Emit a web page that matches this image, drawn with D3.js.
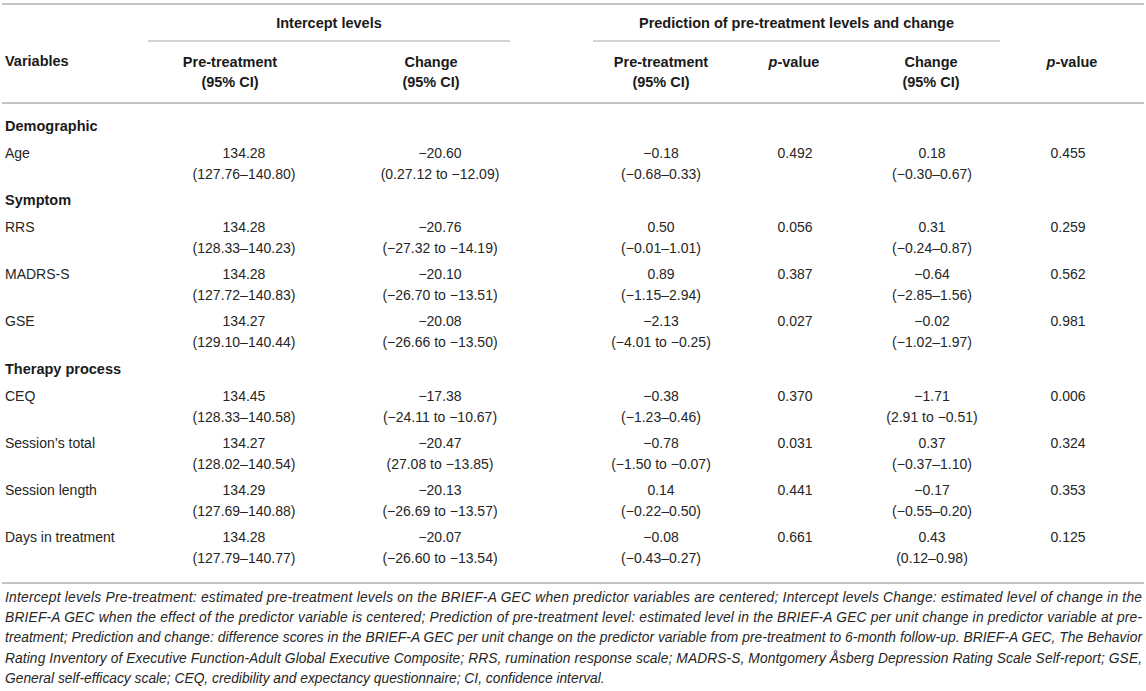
<!DOCTYPE html>
<html>
<head>
<meta charset="utf-8">
<script src="https://cdn.jsdelivr.net/npm/d3@7"></script>
<style>
  body { margin: 0; background: #fff; }
  svg text { font-family: "Liberation Sans", Arial, sans-serif; fill: #262626; }
  .bold { font-weight: bold; fill: #1a1a1a; }
  .note { font-style: italic; }
</style>
</head>
<body>
<svg id="tabla" width="1146" height="691"></svg>
<script>
// Datos de la tabla
var secciones = ["Demographic", "Symptom", "Therapy process"];
var variables = ["Age", "RRS", "MADRS-S", "GSE", "CEQ", "Session\u2019s total", "Session length", "Days in treatment"];
var seccionDeVariable = [0, 1, 1, 1, 2, 2, 2, 2];

var interceptoPre = [134.28, 134.28, 134.28, 134.27, 134.45, 134.27, 134.29, 134.28];
var interceptoPreIC = ["(127.76–140.80)", "(128.33–140.23)", "(127.72–140.83)", "(129.10–140.44)",
                       "(128.33–140.58)", "(128.02–140.54)", "(127.69–140.88)", "(127.79–140.77)"];
var interceptoCambio = [-20.60, -20.76, -20.10, -20.08, -17.38, -20.47, -20.13, -20.07];
var interceptoCambioIC = ["(0.27.12 to −12.09)", "(−27.32 to −14.19)", "(−26.70 to −13.51)", "(−26.66 to −13.50)",
                          "(−24.11 to −10.67)", "(27.08 to −13.85)", "(−26.69 to −13.57)", "(−26.60 to −13.54)"];
var prediccionPre = [-0.18, 0.50, 0.89, -2.13, -0.38, -0.78, 0.14, -0.08];
var prediccionPreIC = ["(−0.68–0.33)", "(−0.01–1.01)", "(−1.15–2.94)", "(−4.01 to −0.25)",
                       "(−1.23–0.46)", "(−1.50 to −0.07)", "(−0.22–0.50)", "(−0.43–0.27)"];
var prediccionPreP = [0.492, 0.056, 0.387, 0.027, 0.370, 0.031, 0.441, 0.661];
var prediccionCambio = [0.18, 0.31, -0.64, -0.02, -1.71, 0.37, -0.17, 0.43];
var prediccionCambioIC = ["(−0.30–0.67)", "(−0.24–0.87)", "(−2.85–1.56)", "(−1.02–1.97)",
                          "(2.91 to −0.51)", "(−0.37–1.10)", "(−0.55–0.20)", "(0.12–0.98)"];
var prediccionCambioP = [0.455, 0.259, 0.562, 0.981, 0.006, 0.324, 0.353, 0.125];

var grupos = ["Intercept levels", "Prediction of pre-treatment levels and change"];
var notas = [
  "Intercept levels Pre-treatment: estimated pre-treatment levels on the BRIEF-A GEC when predictor variables are centered; Intercept levels Change: estimated level of change in the",
  "BRIEF-A GEC when the effect of the predictor variable is centered; Prediction of pre-treatment level: estimated level in the BRIEF-A GEC per unit change in predictor variable at pre-",
  "treatment; Prediction and change: difference scores in the BRIEF-A GEC per unit change on the predictor variable from pre-treatment to 6-month follow-up. BRIEF-A GEC, The Behavior",
  "Rating Inventory of Executive Function-Adult Global Executive Composite; RRS, rumination response scale; MADRS-S, Montgomery Åsberg Depression Rating Scale Self-report; GSE,",
  "General self-efficacy scale; CEQ, credibility and expectancy questionnaire; CI, confidence interval."
];

var svg = d3.select("#tabla");
var fmt2 = d3.format(".2f"); // d3 usa el signo menos tipográfico
var fmt3 = d3.format(".3f");
var margenIzq = 5;

// Columnas (cabecera y datos no quedan exactamente alineados en las dos primeras)
var columnas = ["ip", "ic", "pp", "ppv", "pc", "pcv"];
var xDato = d3.scaleOrdinal().domain(columnas).range([244, 440, 661, 795, 932, 1068]);
var xCabecera = d3.scaleOrdinal().domain(columnas).range([230, 431, 661, 794, 931, 1072]);

// Filas: secciones ocupan menos alto que las filas de datos
var filas = [];
var pos = 0;
secciones.forEach(function(s, si) {
    if (si > 0) pos += 47;
    filas.push({tipo: "seccion", texto: s, pos: pos});
    variables.forEach(function(v, i) {
        if (seccionDeVariable[i] === si) {
            pos += (filas[filas.length - 1].tipo === "seccion") ? 27 : 47;
            filas.push({tipo: "dato", i: i, pos: pos});
        }
    });
});
var y = d3.scaleLinear().domain([0, pos]).range([126, 537]);

// Lineas horizontales
var gris = "#c4c4c4";
[4, 103, y(pos) + 46].forEach(function(yy) {
    svg.append("line").attr("x1", 2).attr("x2", 1144).attr("y1", yy).attr("y2", yy)
        .attr("stroke", gris).attr("stroke-width", 2);
});

// Cabecera de grupos
var gruposX = [[148, 510], [593, 1000]];
svg.selectAll(".grupo")
    .data(grupos)
    .enter()
    .append("text")
    .attr("class", "grupo bold")
    .attr("x", function(d, i) { return (gruposX[i][0] + gruposX[i][1]) / 2; })
    .attr("y", 23)
    .attr("dy", "0.35em")
    .attr("text-anchor", "middle")
    .style("font-size", "14.5px")
    .text(function(d) { return d; });
svg.selectAll(".subraya")
    .data(gruposX)
    .enter()
    .append("line")
    .attr("x1", function(d) { return d[0]; })
    .attr("x2", function(d) { return d[1]; })
    .attr("y1", 41).attr("y2", 41)
    .attr("stroke", gris).attr("stroke-width", 1.5);

// Cabecera de columnas
svg.append("text").attr("class", "bold").attr("x", margenIzq).attr("y", 61).attr("dy", "0.35em")
    .style("font-size", "14.5px").text("Variables");

var cabeceras = [
    {c: "ip", l: ["Pre-treatment", "(95% CI)"]},
    {c: "ic", l: ["Change", "(95% CI)"]},
    {c: "pp", l: ["Pre-treatment", "(95% CI)"]},
    {c: "ppv", l: null},
    {c: "pc", l: ["Change", "(95% CI)"]},
    {c: "pcv", l: null}
];
cabeceras.forEach(function(h) {
    var t = svg.append("text").attr("class", "bold")
        .attr("x", xCabecera(h.c)).attr("text-anchor", "middle")
        .style("font-size", "14.5px");
    if (h.l) {
        t.append("tspan").attr("x", xCabecera(h.c)).attr("y", 62).attr("dy", "0.35em").text(h.l[0]);
        t.append("tspan").attr("x", xCabecera(h.c)).attr("y", 82).attr("dy", "0.35em").text(h.l[1]);
    } else {
        t.attr("y", 62).attr("dy", "0.35em");
        t.append("tspan").style("font-style", "italic").text("p");
        t.append("tspan").text("-value");
    }
});

// Cuerpo
var cuerpo = svg.append("g").style("font-size", "14px");

cuerpo.selectAll(".seccion")
    .data(filas.filter(function(f) { return f.tipo === "seccion"; }))
    .enter()
    .append("text")
    .attr("class", "seccion bold")
    .attr("x", margenIzq)
    .attr("y", function(d) { return y(d.pos); })
    .attr("dy", "0.35em")
    .style("font-size", "14.5px")
    .text(function(d) { return d.texto; });

var datos = filas.filter(function(f) { return f.tipo === "dato"; });

var fila = cuerpo.selectAll(".fila")
    .data(datos)
    .enter()
    .append("g")
    .attr("class", "fila")
    .attr("transform", function(d) { return "translate(0," + y(d.pos) + ")"; });

fila.append("text").attr("x", margenIzq).attr("dy", "0.35em")
    .text(function(d) { return variables[d.i]; });

var celdas = [
    {c: "ip", v: function(i) { return fmt2(interceptoPre[i]); }, ic: function(i) { return interceptoPreIC[i]; }},
    {c: "ic", v: function(i) { return fmt2(interceptoCambio[i]); }, ic: function(i) { return interceptoCambioIC[i]; }},
    {c: "pp", v: function(i) { return fmt2(prediccionPre[i]); }, ic: function(i) { return prediccionPreIC[i]; }},
    {c: "ppv", v: function(i) { return fmt3(prediccionPreP[i]); }, ic: null},
    {c: "pc", v: function(i) { return fmt2(prediccionCambio[i]); }, ic: function(i) { return prediccionCambioIC[i]; }},
    {c: "pcv", v: function(i) { return fmt3(prediccionCambioP[i]); }, ic: null}
];

celdas.forEach(function(cel) {
    fila.append("text")
        .attr("x", xDato(cel.c)).attr("dy", "0.35em").attr("text-anchor", "middle")
        .text(function(d) { return cel.v(d.i); });
    if (cel.ic) {
        fila.append("text")
            .attr("x", xDato(cel.c)).attr("y", 21).attr("dy", "0.35em").attr("text-anchor", "middle")
            .text(function(d) { return cel.ic(d.i); });
    }
});

// Nota al pie, justificada salvo la ultima linea
svg.selectAll(".note")
    .data(notas)
    .enter()
    .append("text")
    .attr("class", "note")
    .attr("x", margenIzq)
    .attr("y", function(d, i) { return 597 + i * 20.3; })
    .attr("dy", "0.35em")
    .style("font-size", "13.8px")
    .attr("textLength", function(d, i) { return i < notas.length - 1 ? 1137 : null; })
    .attr("lengthAdjust", "spacing")
    .text(function(d) { return d; });
</script>
</body>
</html>
